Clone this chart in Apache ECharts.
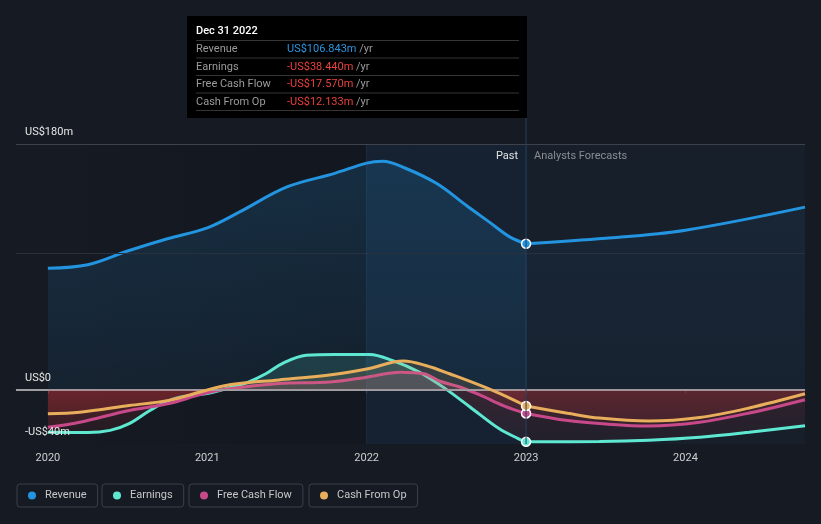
<!DOCTYPE html>
<html><head><meta charset="utf-8">
<script src="https://cdn.jsdelivr.net/npm/echarts@6/dist/echarts.min.js"></script>
<style>html,body{margin:0;padding:0;background:#151a23;}#c{width:821px;height:524px;}</style>
</head><body><div id="c"></div>
<script>
// ---------- data ----------
const seriesNames = ['Revenue', 'Earnings', 'Free Cash Flow', 'Cash From Op'];
const seriesColors = ['#2394df', '#5ee8d2', '#c7498a', '#e8ae5c'];
const xTicks = [2020, 2021, 2022, 2023, 2024];
const yTickLabels = { '-40': '-US$40m', '0': 'US$0', '180': 'US$180m' };
const tooltipDate = 'Dec 31 2022';
const splitX = 2023; // last reported point, forecasts after

const revenueX = [2020.0, 2020.25, 2020.5, 2020.75, 2021.0, 2021.2, 2021.5, 2021.8, 2022.0, 2022.1, 2022.24, 2022.44, 2022.63, 2022.77, 2022.9, 2023.0, 2023.5, 2024.0, 2024.75];
const revenueY = [88.9, 91.5, 101.5, 110.5, 118.5, 130, 148.5, 158.5, 166, 167.3, 162.4, 151, 134.5, 122.7, 111.7, 106.843, 110.8, 116.8, 133.7];

const earningsX = [2020.0, 2020.25, 2020.39, 2020.51, 2020.64, 2020.76, 2020.89, 2021.0, 2021.16, 2021.25, 2021.37, 2021.47, 2021.62, 2021.8, 2022.02, 2022.16, 2022.33, 2022.48, 2022.65, 2022.83, 2022.95, 2023.0, 2023.46, 2023.77, 2024.09, 2024.4, 2024.75];
const earningsY = [-31.4, -31.6, -30, -25, -15.4, -8, -4.4, -3, 2, 5, 11.7, 19, 25, 25.7, 25.7, 21.3, 12.7, 1.7, -13, -28.7, -36, -38.44, -38.2, -37.2, -35, -31.4, -26.7];

const fcfX = [2020.0, 2020.2, 2020.51, 2020.76, 2020.95, 2021.1, 2021.45, 2021.77, 2022.0, 2022.21, 2022.36, 2022.46, 2022.58, 2022.71, 2022.86, 2023.0, 2023.26, 2023.46, 2023.77, 2024.09, 2024.4, 2024.75];
const fcfY = [-27.7, -24, -15.4, -10.3, -4, 0, 4.4, 5.4, 9, 12.7, 11.5, 6, 2, -4, -12, -17.57, -22.8, -25, -26.8, -24, -17.3, -7.5];

const cfoX = [2020.0, 2020.2, 2020.51, 2020.76, 2020.95, 2021.1, 2021.2, 2021.45, 2021.79, 2022.0, 2022.23, 2022.37, 2022.52, 2022.79, 2023.0, 2023.26, 2023.46, 2023.77, 2024.09, 2024.4, 2024.75];
const cfoY = [-17.9, -16.7, -11.8, -8, -2, 2.5, 4.4, 7, 11, 15, 20.8, 17.6, 11.5, -0.7, -12.133, -17.4, -21, -23.2, -20.6, -13.6, -3.2];

const allX = [revenueX, earningsX, fcfX, cfoX];
const allY = [revenueY, earningsY, fcfY, cfoY];

// ---------- layout / style ----------
const W = 821, H = 524;
const GRID = { left: 16, right: 16, top: 144, bottom: 80 };
const X_MIN = 2019.8, X_MAX = 2024.75, Y_MIN = -40, Y_MAX = 180;
const FONT = 'Roboto, "Noto Sans", sans-serif';
const gTop = GRID.top, gBot = H - GRID.bottom;
const z0 = Y_MAX / (Y_MAX - Y_MIN);

function hexRgb(h) { const n = parseInt(h.slice(1), 16); return [(n >> 16) & 255, (n >> 8) & 255, n & 255]; }
function rgba(h, a) { const c = hexRgb(h); return `rgba(${c[0]},${c[1]},${c[2]},${a})`; }
function vgrad(stops) { return { type: 'linear', x: 0, y: gTop, x2: 0, y2: gBot, global: true, colorStops: stops }; }

function areaFor(i, past) {
  const c = seriesColors[i];
  if (i === 0) {
    return past ? vgrad([{ offset: 0, color: rgba(c, 0.27) }, { offset: z0, color: rgba(c, 0.1) }, { offset: 1, color: rgba(c, 0.1) }])
                : vgrad([{ offset: 0, color: rgba(c, 0.1) }, { offset: z0, color: rgba(c, 0.04) }, { offset: 1, color: rgba(c, 0.04) }]);
  }
  const red = '#e23436';
  const rTop = past ? 0.23 : 0.18, rBot = past ? 0.08 : 0.07;
  return vgrad([
    { offset: 0, color: rgba(c, 0.2) }, { offset: z0, color: rgba(c, 0.2) },
    { offset: z0, color: rgba(red, rTop) }, { offset: 1, color: rgba(red, rBot) }
  ]);
}

const series = [];
seriesNames.forEach((name, i) => {
  const past = [], fc = [];
  allX[i].forEach((x, k) => {
    if (x <= splitX) past.push([x, allY[i][k]]);
    if (x >= splitX) fc.push([x, allY[i][k]]);
  });
  [past, fc].forEach((data, part) => {
    const isPast = part === 0;
    series.push({
      type: 'line', name, data, smooth: 0.35, silent: true,
      showAllSymbol: true,
      symbol: isPast ? ((v, p) => p.dataIndex === data.length - 1 ? 'circle' : 'none') : 'none',
      symbolSize: 9,
      color: seriesColors[i],
      lineStyle: { width: 3, color: seriesColors[i] },
      itemStyle: { color: seriesColors[i], borderColor: '#ffffff', borderWidth: 1.5 },
      areaStyle: { color: areaFor(i, isPast) },
      emphasis: { disabled: true },
      z: 2 + i
    });
  });
});

// background areas and grid lines on first series
series[0].markArea = {
  silent: true,
  data: [
    [{ xAxis: 2020, itemStyle: { color: { type: 'linear', x: 0, y: 0, x2: 1, y2: 0, colorStops: [{ offset: 0, color: 'rgba(0,0,0,0)' }, { offset: 1, color: 'rgba(0,0,0,0.12)' }] } } }, { xAxis: 2022 }],
    [{ xAxis: 2022, itemStyle: { color: 'rgba(30,120,200,0.09)' } }, { xAxis: splitX }],
    [{ xAxis: splitX, itemStyle: { color: 'rgba(30,50,75,0.22)' } }, { xAxis: X_MAX }]
  ]
};
series[0].markLine = {
  silent: true, symbol: 'none', label: { show: false },
  data: [
    { yAxis: 180, lineStyle: { color: '#3d424c', width: 1, type: 'solid' } },
    { yAxis: 100, lineStyle: { color: '#28313d', width: 1, type: 'solid' } },
    { xAxis: 2022, lineStyle: { color: 'rgba(60,120,180,0.18)', width: 1, type: 'solid' } }
  ]
};
series[series.length - 1].markLine = {
  silent: true, symbol: 'none', label: { show: false },
  data: [{ yAxis: 0, lineStyle: { color: '#9c9ea3', width: 2, type: 'solid' } }]
};

const legendLefts = [17, 102, 189, 309];
const legends = seriesNames.map((n, i) => ({
  data: [n], left: legendLefts[i], top: 484, icon: 'circle', itemWidth: 8, itemHeight: 8,
  itemGap: 0, selectedMode: false, borderColor: '#3a404b', borderWidth: 1, borderRadius: 3,
  padding: [6, 11, 6, 11],
  itemStyle: { borderWidth: 0, color: seriesColors[i] },
  textStyle: { color: '#c8c8c8', fontSize: 11, fontFamily: FONT, padding: [0, 0, 0, 4] }
}));

const chart = echarts.init(document.getElementById('c'), null, { renderer: 'canvas' });
chart.setOption({
  backgroundColor: '#151a23',
  animation: false,
  textStyle: { fontFamily: FONT },
  grid: { left: GRID.left, right: GRID.right, top: GRID.top, bottom: GRID.bottom },
  legend: legends,
  xAxis: {
    type: 'value', min: X_MIN, max: X_MAX,
    axisLine: { show: true, lineStyle: { color: '#3c424c', width: 1 } },
    axisTick: { show: true, customValues: xTicks, length: 4, lineStyle: { color: '#3c424c' } },
    axisLabel: { customValues: xTicks, color: '#cfcfcf', fontSize: 11, fontFamily: FONT, margin: 9, formatter: v => String(Math.round(v)) },
    splitLine: { show: false }
  },
  yAxis: {
    type: 'value', min: Y_MIN, max: Y_MAX, interval: 20, z: 10,
    axisLine: { show: false }, axisTick: { show: false }, splitLine: { show: false },
    axisLabel: {
      inside: true, margin: 9, color: '#e6e6e6', fontSize: 11, fontFamily: FONT,
      verticalAlign: 'bottom', padding: [0, 0, 6, 0],
      formatter: v => (yTickLabels[String(Math.round(v))] !== undefined ? yTickLabels[String(Math.round(v))] : '')
    }
  },
  series
});

// ---------- tooltip-like panel & annotations ----------
const xs = chart.convertToPixel({ xAxisIndex: 0 }, splitX);
function fmt(v) { const s = 'US$' + Math.abs(v).toFixed(3) + 'm'; return v < 0 ? '-' + s : s; }
const tipVals = seriesNames.map((n, i) => allY[i][allX[i].indexOf(splitX)]);

const boxL = 187, boxT = 16, boxR = Math.round(xs) + 1, boxB = 118;
const g = [
  { type: 'line', shape: { x1: xs, y1: boxB, x2: xs, y2: gBot }, style: { stroke: '#25445f', lineWidth: 1 }, z: 20, silent: true },
  { type: 'rect', shape: { x: boxL, y: boxT, width: boxR - boxL, height: boxB - boxT }, style: { fill: '#000000' }, z: 30, silent: true },
  { type: 'text', x: boxL + 9, y: 31, style: { text: tooltipDate, fill: '#ffffff', font: '500 11px ' + FONT, verticalAlign: 'middle' }, z: 31, silent: true },
  { type: 'text', x: xs - 8, y: 156, style: { text: 'Past', fill: '#e4e4e4', font: '11px ' + FONT, align: 'right', verticalAlign: 'middle' }, z: 31, silent: true },
  { type: 'text', x: xs + 8, y: 156, style: { text: 'Analysts Forecasts', fill: '#8b8d91', font: '11px ' + FONT, align: 'left', verticalAlign: 'middle' }, z: 31, silent: true }
];
const sepYs = [40.5, 58, 75.5, 93, 110.5];
sepYs.forEach(y => g.push({ type: 'line', shape: { x1: boxL + 9, y1: y, x2: boxR - 8, y2: y }, style: { stroke: '#353535', lineWidth: 1 }, z: 31, silent: true }));
seriesNames.forEach((n, i) => {
  const y = 49.5 + i * 17.5;
  const v = tipVals[i];
  const vc = v < 0 ? '#e8423c' : '#2b95e0';
  g.push({ type: 'text', x: boxL + 9, y, style: { text: n, fill: '#9b9b9b', font: '11px ' + FONT, verticalAlign: 'middle' }, z: 31, silent: true });
  g.push({ type: 'text', x: 287, y, style: {
    text: '{v|' + fmt(v) + '} {u|/yr}', verticalAlign: 'middle', font: '11px ' + FONT,
    rich: { v: { fill: vc, font: '11px ' + FONT }, u: { fill: '#9b9b9b', font: '11px ' + FONT } }
  }, z: 31, silent: true });
});
chart.setOption({ graphic: g });
</script></body></html>
